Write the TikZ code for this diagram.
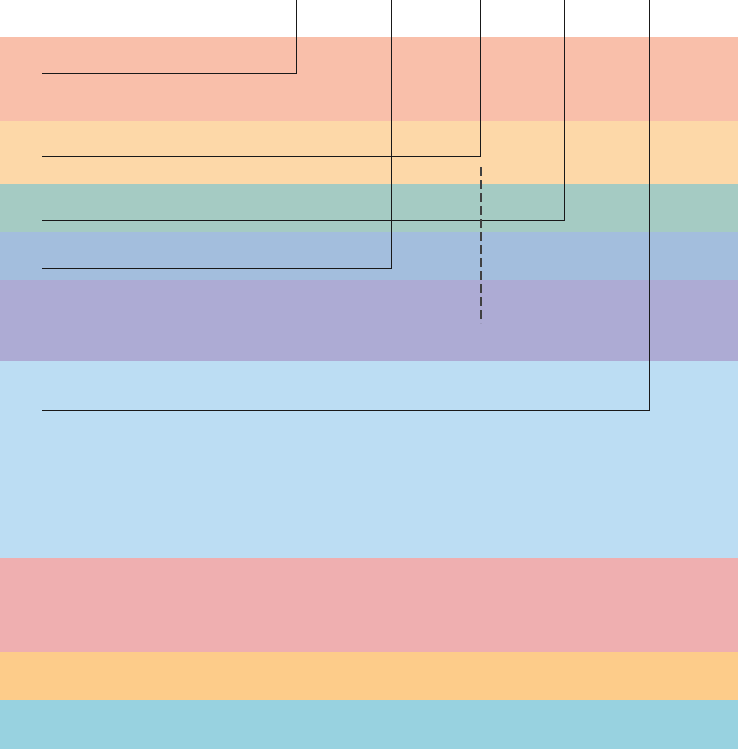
\documentclass[tikz,border=0pt]{standalone}
\usepackage{color,tikz}

\definecolor{bandA}{HTML}{F9BFAA}
\definecolor{bandB}{HTML}{FDD8A8}
\definecolor{bandC}{HTML}{A5CBC3}
\definecolor{bandD}{HTML}{A3BEDD}
\definecolor{bandE}{HTML}{ADABD4}
\definecolor{bandF}{HTML}{BCDDF3}
\definecolor{bandG}{HTML}{EFAFB0}
\definecolor{bandH}{HTML}{FDCC8A}
\definecolor{bandI}{HTML}{98D2E0}

\begin{document}
\begin{tikzpicture}
			[x=1pt, y=-1pt, leader/.style ={draw=black!90, line width=1pt},
			hidden/.style ={draw=black!75, line width=1.3pt, dash pattern=on 9pt off 4pt}]
			\useasboundingbox (0,0) rectangle (738,749);
			% layers
			\fill[bandA] (0,37) rectangle (738,121);
			\fill[bandB] (0,121) rectangle (738,184);
			\fill[bandC] (0,184) rectangle (738,232);
			\fill[bandD] (0,232) rectangle (738,280);
			\fill[bandE] (0,280) rectangle (738,361);
			\fill[bandF] (0,361) rectangle (738,558);
			\fill[bandG] (0,558) rectangle (738,652);
			\fill[bandH] (0,652) rectangle (738,700);
			\fill[bandI] (0,700) rectangle (738,749);

			% leader ends
			\coordinate (l1) at (42,74);
			\coordinate (l2) at (42,156);
			\coordinate (l3) at (42,220);
			\coordinate (l4) at (42,268);
			\coordinate (l5) at (42,410);
			\coordinate (t1) at (296,0);
			\coordinate (t2) at (480,0);
			\coordinate (t3) at (564,0);
			\coordinate (t4) at (391,0);
			\coordinate (t5) at (649,0);
			\coordinate (d1) at (481,167);
			\coordinate (d2) at (481,323);

			\draw[leader] (l1) -| (t1);
			\draw[leader] (l2) -| (t2);
			\draw[leader] (l3) -| (t3);
			\draw[leader] (l4) -| (t4);
			\draw[leader] (l5) -| (t5);
			\draw[hidden] (d1) -- (d2);
		\end{tikzpicture}
\end{document}
